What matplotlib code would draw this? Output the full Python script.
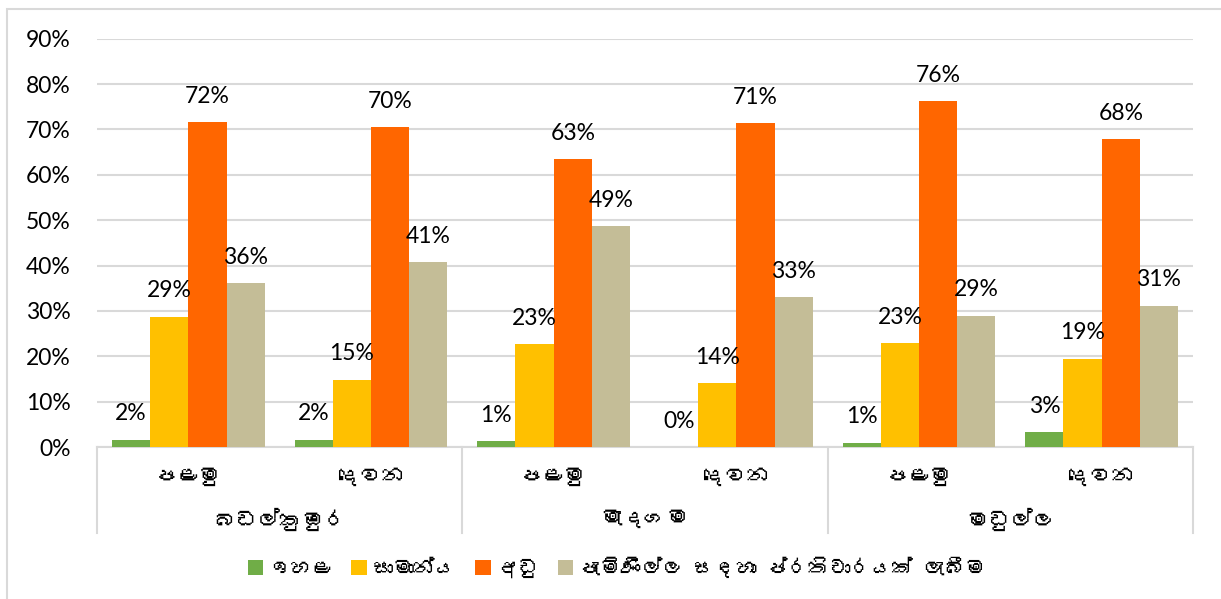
import matplotlib
matplotlib.use("Agg")
import matplotlib.pyplot as plt
from matplotlib import font_manager
from matplotlib.ft2font import FT2Font
from matplotlib.patches import Rectangle
import numpy as np

# ---------------- data ----------------
groups = ["බඩල්කුඹුර", "මැදගම", "මඩුල්ල"]
rounds = ["පළමු", "දෙවන"]
series_names = ["ඉහළ", "සාමාන්‍ය", "අඩු", "පැමිණිල්ල සඳහා ප්‍රතිචාරයක් ලැබීම"]
high = [0.016, 0.016, 0.013, 0.0, 0.009, 0.033]
average = [0.287, 0.148, 0.227, 0.141, 0.229, 0.194]
low = [0.716, 0.705, 0.634, 0.714, 0.762, 0.678]
response = [0.361, 0.407, 0.487, 0.330, 0.289, 0.311]
yticks = [0, 0.1, 0.2, 0.3, 0.4, 0.5, 0.6, 0.7, 0.8, 0.9]
colors = ["#70AD47", "#FFC000", "#FF6600", "#C4BD97"]

# ---------------- fonts ----------------
def find_sinhala_font():
    for f in font_manager.fontManager.ttflist:
        try:
            cm = FT2Font(f.fname).get_charmap()
            if 0x0DB4 in cm and 0x0DC5 in cm:
                return f.name
        except Exception:
            pass
    return None

sin = find_sinhala_font()
latin = "Lato"
fam = [latin] + ([sin] if sin else []) + ["DejaVu Sans"]
sin_fam = ([sin] if sin else []) + [latin, "DejaVu Sans"]
plt.rcParams["font.family"] = fam

def show(s):
    # matplotlib has no complex text shaping; drop the invisible joiner so it is not drawn as a box
    return s.replace("\u200d", "")

W, H = 1221, 599
fig = plt.figure(figsize=(W / 100, H / 100), dpi=100)

def fx(px):
    return px / W

def fy(py):
    return 1 - py / H

left, right, top, bottom = 97, 1193, 38.7, 447
ax = fig.add_axes([fx(left), fy(bottom), fx(right) - fx(left), fy(top) - fy(bottom)])

n = len(high)
x = np.arange(n)
bw = 0.209
num_size = 16.5
series = [high, average, low, response]
for i, (vals, c) in enumerate(zip(series, colors)):
    xs = x + (i - 1.5) * bw
    ax.bar(xs, vals, width=bw, color=c, zorder=3, label=show(series_names[i]))
    for xv, v in zip(xs, vals):
        ax.annotate(f"{round(v * 100):.0f}%", (xv, v), xytext=(0, 26), textcoords="offset pixels",
                    ha="center", va="center", fontsize=num_size, color="#000000", zorder=4,
                    family=[latin, "DejaVu Sans"])

ax.set_xlim(-0.5, n - 0.5)
ax.set_ylim(0, 0.9)
ax.set_yticks(yticks)
ax.set_yticklabels([f"{int(round(t * 100))}%" for t in yticks], fontsize=num_size, family=[latin, "DejaVu Sans"])
ax.tick_params(axis="y", length=0, pad=19)
ax.set_xticks([])
ax.grid(axis="y", color="#D9D9D9", linewidth=1.5, zorder=0)
for s in ["top", "right", "left"]:
    ax.spines[s].set_visible(False)
ax.spines["bottom"].set_color("#D9D9D9")
ax.spines["bottom"].set_linewidth(1.5)

# multi-level category axis
trans = ax.get_xaxis_transform()
ax_h = bottom - top
def ay(py):
    return (bottom - py) / ax_h

for k in range(len(groups) + 1):
    xb = -0.5 + 2 * k
    ax.plot([xb, xb], [0, ay(533)], transform=trans, color="#D9D9D9", lw=1.5, clip_on=False, zorder=1)
for i in range(n):
    ax.text(x[i], ay(477), show(rounds[i % 2]), transform=trans, ha="center", va="center",
            fontsize=16, family=sin_fam)
for g in range(len(groups)):
    ax.text(2 * g + 0.5, ay(519), show(groups[g]), transform=trans, ha="center", va="center",
            fontsize=16, family=sin_fam)

# legend
handles, labels = ax.get_legend_handles_labels()
leg = fig.legend(handles, labels, loc="center", bbox_to_anchor=(fx(617), fy(567)), ncol=4,
                 frameon=False, handlelength=0.75, handleheight=0.75, handletextpad=0.3,
                 columnspacing=0.9, prop={"family": sin_fam, "size": 15})

# chart border
fig.patches.append(Rectangle((fx(7.5), fy(H + 5)), 1.2, fy(9) - fy(H + 5), transform=fig.transFigure,
                             fill=False, edgecolor="#D9D9D9", linewidth=1.5))

fig.savefig("out.png", dpi=100)
